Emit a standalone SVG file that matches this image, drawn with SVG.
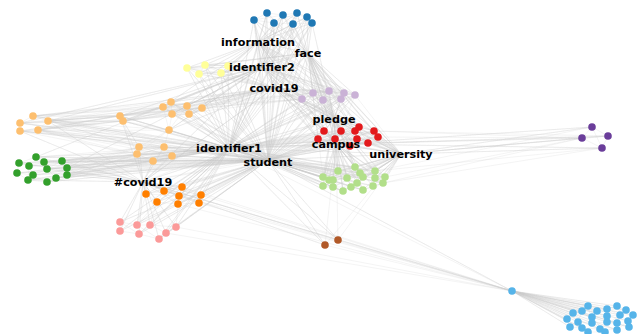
<svg xmlns="http://www.w3.org/2000/svg" width="644" height="334" viewBox="0 0 644 334">
<style>
.e{fill:none;stroke:#c8c8c8;stroke-width:0.5;stroke-opacity:0.42;stroke-linejoin:round}
circle{r:3.8px}
.b{fill:#1f78b4}.y{fill:#ffff99}.lp{fill:#cab2d6}.r{fill:#e31a1c}.g{fill:#b2df8a}.o{fill:#fdbf6f}.dg{fill:#33a02c}.or{fill:#ff7f00}.pk{fill:#fb9a99}.br{fill:#b15928}.pu{fill:#6a3d9a}.lb{fill:#56b4e9}
text{font-family:"DejaVu Sans","Liberation Sans",sans-serif;font-weight:bold;font-size:11.2px;fill:#000;text-anchor:middle}
</style>
<rect width="644" height="334" fill="#fff"/>
<g id="edges">
<path class="e" d="M268 160L254 20 268 160 267 13 268 160 274 23 268 160 283 15 268 160 293 24 268 160 297 13 268 160 307 17 268 160 312 23 268 160 187 68 268 160 205 65 268 160 199 74 268 160 221 73 268 160 228 66 268 160 302 99 268 160 313 93 268 160 323 100 268 160 329 91 268 160 341 99 268 160 344 93 268 160 355 95 268 160 324 131 268 160 341 131 268 160 355 131 268 160 359 127 268 160 374 131 268 160 378 137 268 160 318 139 268 160 335 139 268 160 357 139 268 160 368 143 268 160 350 146 268 160 323 177 268 160 329 180 268 160 338 171 268 160 355 167 268 160 360 173 268 160 363 177 268 160 375 171 268 160 385 177 268 160 347 178 268 160 323 186 268 160 333 187 268 160 343 191 268 160 351 187 268 160 357 183 268 160 363 190 268 160 373 186 268 160 383 183 268 160 375 178 268 160 333 180 268 160 20 123 268 160 33 116 268 160 48 121 268 160 20 131 268 160 38 130 268 160 120 116 268 160 123 121 268 160 163 107 268 160 171 102 268 160 172 114 268 160 187 106 268 160 189 114 268 160 202 108 268 160 169 130 268 160 139 147 268 160 137 154 268 160 164 147 268 160 172 156 268 160 153 161 268 160 36 157 268 160 44 162 268 160 62 161 268 160 19 163 268 160 29 166 268 160 47 169 268 160 67 168 268 160 17 173 268 160 33 175 268 160 67 175 268 160 56 178 268 160 47 182 268 160 28 180 268 160 146 194 268 160 164 191 268 160 182 187 268 160 179 196 268 160 201 195 268 160 157 202 268 160 178 204 268 160 199 203 268 160 120 222 268 160 137 225 268 160 150 225 268 160 176 227 268 160 120 231 268 160 139 234 268 160 166 233 268 160 159 239 268 160 325 245 268 160 338 240 268 160 512 291 268 160 229 148 268 160 262 67 268 160 274 88 268 160 308 53 268 160 258 42 268 160 334 119 268 160 336 144 268 160 401 154 268 160 143 182"/>
<path class="e" d="M229 148L254 20 229 148 267 13 229 148 274 23 229 148 283 15 229 148 293 24 229 148 297 13 229 148 307 17 229 148 312 23 229 148 187 68 229 148 205 65 229 148 199 74 229 148 221 73 229 148 228 66 229 148 302 99 229 148 313 93 229 148 323 100 229 148 329 91 229 148 341 99 229 148 344 93 229 148 355 95 229 148 324 131 229 148 341 131 229 148 355 131 229 148 359 127 229 148 374 131 229 148 378 137 229 148 318 139 229 148 335 139 229 148 357 139 229 148 368 143 229 148 350 146 229 148 323 177 229 148 338 171 229 148 355 167 229 148 375 171 229 148 385 177 229 148 347 178 229 148 323 186 229 148 343 191 229 148 363 190 229 148 383 183 229 148 20 123 229 148 33 116 229 148 48 121 229 148 20 131 229 148 38 130 229 148 120 116 229 148 123 121 229 148 163 107 229 148 171 102 229 148 172 114 229 148 187 106 229 148 189 114 229 148 202 108 229 148 169 130 229 148 139 147 229 148 137 154 229 148 164 147 229 148 172 156 229 148 153 161 229 148 36 157 229 148 44 162 229 148 62 161 229 148 19 163 229 148 29 166 229 148 47 169 229 148 67 168 229 148 17 173 229 148 33 175 229 148 67 175 229 148 56 178 229 148 47 182 229 148 28 180 229 148 146 194 229 148 164 191 229 148 182 187 229 148 179 196 229 148 201 195 229 148 157 202 229 148 178 204 229 148 199 203 229 148 120 222 229 148 137 225 229 148 150 225 229 148 176 227 229 148 120 231 229 148 139 234 229 148 166 233 229 148 159 239 229 148 325 245 229 148 338 240 229 148 262 67 229 148 274 88 229 148 308 53 229 148 258 42 229 148 334 119 229 148 336 144 229 148 401 154 229 148 143 182"/>
<path class="e" d="M143 182L146 194 143 182 164 191 143 182 182 187 143 182 179 196 143 182 201 195 143 182 157 202 143 182 178 204 143 182 199 203 143 182 120 222 143 182 137 225 143 182 150 225 143 182 176 227 143 182 120 231 143 182 139 234 143 182 166 233 143 182 159 239 143 182 36 157 143 182 62 161 143 182 19 163 143 182 47 169 143 182 67 175 143 182 28 180 143 182 139 147 143 182 137 154 143 182 164 147 143 182 172 156 143 182 153 161 143 182 512 291 143 182 325 245 143 182 338 240 143 182 120 116 143 182 20 131 143 182 48 121 143 182 262 67 143 182 274 88 143 182 334 119 143 182 336 144"/>
<path class="e" d="M201 195L512 291 199 203M182 187L512 291 178 204M164 191L512 291M176 227L512 291 166 233M338 240L512 291 325 245 401 154 338 240 336 144 325 245M229 148L512 291"/>
<path class="e" d="M262 67L254 20 262 67 267 13 262 67 274 23 262 67 283 15 262 67 293 24 262 67 297 13 262 67 307 17 262 67 312 23 262 67 187 68 262 67 205 65 262 67 199 74 262 67 221 73 262 67 163 107 262 67 171 102 262 67 172 114 262 67 187 106 262 67 189 114 262 67 202 108 262 67 169 130 262 67 120 116 262 67 123 121 262 67 302 99 262 67 313 93 262 67 323 100 262 67 329 91 262 67 341 99 262 67 344 93 262 67 355 95 262 67 324 131 262 67 341 131 262 67 318 139 262 67 20 123 262 67 48 121 262 67 36 157 262 67 67 168 262 67 274 88 262 67 308 53 262 67 258 42 262 67 334 119 262 67 336 144 262 67 401 154"/>
<path class="e" d="M258 42L254 20 258 42 267 13 258 42 274 23 258 42 283 15 258 42 293 24 258 42 297 13 258 42 307 17 258 42 312 23 258 42 187 68 258 42 205 65 258 42 199 74 258 42 221 73 258 42 228 66 258 42 302 99 258 42 313 93 258 42 329 91 258 42 344 93 258 42 355 95 258 42 324 131 258 42 341 131 258 42 359 127 258 42 318 139 258 42 163 107 258 42 187 106 258 42 202 108 258 42 308 53 258 42 274 88 258 42 334 119 258 42 336 144 258 42 401 154"/>
<path class="e" d="M308 53L254 20 308 53 267 13 308 53 274 23 308 53 283 15 308 53 293 24 308 53 297 13 308 53 307 17 308 53 312 23 308 53 302 99 308 53 313 93 308 53 323 100 308 53 329 91 308 53 341 99 308 53 344 93 308 53 355 95 308 53 324 131 308 53 341 131 308 53 355 131 308 53 359 127 308 53 374 131 308 53 378 137 308 53 318 139 308 53 335 139 308 53 357 139 308 53 368 143 308 53 350 146 308 53 187 68 308 53 205 65 308 53 221 73 308 53 274 88 308 53 334 119 308 53 336 144 308 53 401 154 308 53 338 171 308 53 355 167 308 53 323 177"/>
<path class="e" d="M274 88L254 20 274 88 274 23 274 88 293 24 274 88 312 23 274 88 187 68 274 88 205 65 274 88 199 74 274 88 221 73 274 88 228 66 274 88 302 99 274 88 313 93 274 88 323 100 274 88 329 91 274 88 341 99 274 88 344 93 274 88 355 95 274 88 324 131 274 88 341 131 274 88 355 131 274 88 359 127 274 88 374 131 274 88 318 139 274 88 335 139 274 88 163 107 274 88 171 102 274 88 172 114 274 88 187 106 274 88 189 114 274 88 202 108 274 88 169 130 274 88 120 116 274 88 123 121 274 88 33 116 274 88 38 130 274 88 334 119 274 88 336 144 274 88 401 154 274 88 143 182"/>
<path class="e" d="M334 119L324 131 334 119 341 131 334 119 355 131 334 119 359 127 334 119 374 131 334 119 378 137 334 119 318 139 334 119 335 139 334 119 357 139 334 119 368 143 334 119 350 146 334 119 302 99 334 119 313 93 334 119 323 100 334 119 329 91 334 119 341 99 334 119 344 93 334 119 355 95 334 119 323 177 334 119 338 171 334 119 355 167 334 119 360 173 334 119 375 171 334 119 385 177 334 119 347 178 334 119 323 186 334 119 343 191 334 119 363 190 334 119 383 183 334 119 254 20 334 119 274 23 334 119 293 24 334 119 312 23 334 119 283 15 334 119 336 144 334 119 401 154"/>
<path class="e" d="M336 144L324 131 336 144 341 131 336 144 355 131 336 144 359 127 336 144 374 131 336 144 378 137 336 144 318 139 336 144 335 139 336 144 357 139 336 144 368 143 336 144 350 146 336 144 323 177 336 144 329 180 336 144 338 171 336 144 355 167 336 144 360 173 336 144 363 177 336 144 375 171 336 144 385 177 336 144 347 178 336 144 323 186 336 144 333 187 336 144 343 191 336 144 351 187 336 144 357 183 336 144 363 190 336 144 373 186 336 144 383 183 336 144 375 178 336 144 333 180 336 144 592 127 336 144 582 138 336 144 608 136 336 144 602 148 336 144 401 154 336 144 302 99 336 144 329 91 336 144 355 95"/>
<path class="e" d="M401 154L323 177 401 154 329 180 401 154 338 171 401 154 355 167 401 154 360 173 401 154 363 177 401 154 375 171 401 154 385 177 401 154 347 178 401 154 323 186 401 154 333 187 401 154 343 191 401 154 351 187 401 154 357 183 401 154 363 190 401 154 373 186 401 154 383 183 401 154 375 178 401 154 324 131 401 154 341 131 401 154 355 131 401 154 359 127 401 154 374 131 401 154 378 137 401 154 318 139 401 154 357 139 401 154 368 143 401 154 350 146 401 154 592 127 401 154 582 138 401 154 608 136 401 154 602 148 401 154 302 99 401 154 329 91 401 154 344 93 401 154 355 95"/>
<path class="e" d="M385 177L582 138 383 183 602 148 375 171 592 127M378 137L582 138 374 131 608 136M592 127L582 138 602 148 608 136 592 127 602 148M582 138L608 136"/>
<path class="e" d="M512 291L588 306 512 291 573 313 512 291 567 319 512 291 570 327 512 291 582 311 512 291 592 317 512 291 597 311 512 291 607 309 512 291 617 306 512 291 626 310 512 291 633 315 512 291 628 321 512 291 620 315 512 291 607 316 512 291 592 323 512 291 578 322 512 291 582 328 512 291 588 332 512 291 600 329 512 291 607 322 512 291 617 323 512 291 617 330 512 291 629 327 512 291 605 332M573 313L588 306 607 309 626 310 633 315 628 321 617 330 600 329 582 328 570 327 567 319 573 313 592 317 607 316 620 315 633 315M582 311L597 311 617 306 626 310 617 323 607 322 592 323 578 322 582 311 600 329 620 315 607 309 592 317 605 332 588 332 578 322M597 311L607 322 629 327 617 306M588 306L592 323 617 330"/>
<path class="e" d="M120 116L20 123 120 116 33 116 120 116 48 121 120 116 20 131 120 116 38 130 123 121 20 123 123 121 48 121 123 121 38 130M120 116L163 107 123 121 172 114 120 116 187 106 123 121 202 108 120 116 302 99 123 121 329 91 120 116 169 130 123 121 139 147 120 116 137 154M48 121L163 107 33 116 171 102 48 121 202 108 38 130 189 114 20 131 169 130 48 121 302 99 33 116 313 93 20 123 33 116 48 121 38 130 20 131 20 123M48 121L139 147 38 130 137 154 20 131 164 147 48 121 172 156 38 130 153 161"/>
<path class="e" d="M62 161L139 147 67 168 137 154 67 175 164 147 62 161 172 156 67 168 153 161 44 162 137 154 47 169 139 147 56 178 153 161 36 157 164 147 67 175 229 148M36 157L44 162 62 161 67 168 67 175 56 178 47 182 28 180 17 173 19 163 36 157 47 169 44 162 29 166 19 163M29 166L33 175 47 169 56 178M33 175L17 173M33 175L47 182 67 168 47 169 62 161M28 180L29 166"/>
<path class="e" d="M163 107L171 102 187 106 202 108 189 114 172 114 163 107 189 114 171 102 172 114 187 106 169 130 172 114M163 107L169 130 202 108M139 147L137 154 153 161 172 156 164 147 139 147 172 156M164 147L153 161 137 154 169 130 164 147M169 130L139 147"/>
<path class="e" d="M146 194L164 191 182 187 201 195 199 203 178 204 157 202 146 194 179 196 182 187M164 191L179 196 199 203M157 202L164 191 178 204 179 196 201 195M120 222L137 225 150 225 176 227 166 233 159 239 139 234 120 231 120 222 139 234 150 225 166 233M137 225L159 239 176 227M146 194L137 225 157 202 150 225 179 196 176 227"/>
<path class="e" d="M254 20L267 13 283 15 297 13 307 17 312 23 293 24 274 23 254 20 283 15 293 24 307 17M267 13L274 23 283 15 312 23 297 13 274 23M187 68L205 65 228 66 221 73 199 74 187 68 221 73 205 65 199 74M302 99L313 93 329 91 344 93 355 95 341 99 323 100 302 99 329 91 341 99M313 93L323 100 344 93 329 91"/>
<path class="e" d="M324 131L341 131 355 131 359 127 374 131 378 137 368 143 357 139 350 146 335 139 318 139 324 131 335 139 341 131 357 139 355 131 368 143 374 131 359 127 341 131 350 146M318 139L341 131M355 131L378 137"/>
<path class="e" d="M323 177L329 180 333 180 338 171 355 167 360 173 363 177 375 171 385 177 383 183 373 186 363 190 351 187 343 191 333 187 323 186 323 177 333 180 347 178 357 183 363 177 375 178 385 177M338 171L347 178 360 173 375 171 375 178 373 186 357 183 351 187 333 187 333 180M329 180L323 186 343 191 357 183 363 190 383 183 375 178M355 167L363 177 347 178 351 187"/>
</g>
<g id="blue">
<g id="b1"><circle class="b" cx="254" cy="20"/></g><g id="b2"><circle class="b" cx="267" cy="13"/></g><g id="b3"><circle class="b" cx="274" cy="23"/></g><g id="b4"><circle class="b" cx="283" cy="15"/></g><g id="b5"><circle class="b" cx="293" cy="24"/></g><g id="b6"><circle class="b" cx="297" cy="13"/></g><g id="b7"><circle class="b" cx="307" cy="17"/></g><g id="b8"><circle class="b" cx="312" cy="23"/></g>
</g>
<g id="yellow">
<g id="y1"><circle class="y" cx="187" cy="68"/></g><g id="y2"><circle class="y" cx="205" cy="65"/></g><g id="y3"><circle class="y" cx="199" cy="74"/></g><g id="y4"><circle class="y" cx="221" cy="73"/></g><g id="y5"><circle class="y" cx="228" cy="66"/></g>
</g>
<g id="lpurple">
<g id="lp1"><circle class="lp" cx="302" cy="99"/></g><g id="lp2"><circle class="lp" cx="313" cy="93"/></g><g id="lp3"><circle class="lp" cx="323" cy="100"/></g><g id="lp4"><circle class="lp" cx="329" cy="91"/></g><g id="lp5"><circle class="lp" cx="341" cy="99"/></g><g id="lp6"><circle class="lp" cx="344" cy="93"/></g><g id="lp7"><circle class="lp" cx="355" cy="95"/></g>
</g>
<g id="red">
<g id="r1"><circle class="r" cx="324" cy="131"/></g><g id="r2"><circle class="r" cx="341" cy="131"/></g><g id="r3"><circle class="r" cx="355" cy="131"/></g><g id="r4"><circle class="r" cx="359" cy="127"/></g><g id="r5"><circle class="r" cx="374" cy="131"/></g><g id="r6"><circle class="r" cx="378" cy="137"/></g><g id="r7"><circle class="r" cx="318" cy="139"/></g><g id="r8"><circle class="r" cx="335" cy="139"/></g><g id="r9"><circle class="r" cx="357" cy="139"/></g><g id="r10"><circle class="r" cx="368" cy="143"/></g><g id="r11"><circle class="r" cx="350" cy="146"/></g>
</g>
<g id="lgreen">
<g id="g1"><circle class="g" cx="323" cy="177"/></g><g id="g2"><circle class="g" cx="329" cy="180"/></g><g id="g3"><circle class="g" cx="338" cy="171"/></g><g id="g4"><circle class="g" cx="355" cy="167"/></g><g id="g5"><circle class="g" cx="360" cy="173"/></g><g id="g6"><circle class="g" cx="363" cy="177"/></g><g id="g7"><circle class="g" cx="375" cy="171"/></g><g id="g8"><circle class="g" cx="385" cy="177"/></g><g id="g9"><circle class="g" cx="347" cy="178"/></g><g id="g10"><circle class="g" cx="323" cy="186"/></g><g id="g11"><circle class="g" cx="333" cy="187"/></g><g id="g12"><circle class="g" cx="343" cy="191"/></g><g id="g13"><circle class="g" cx="351" cy="187"/></g><g id="g14"><circle class="g" cx="357" cy="183"/></g><g id="g15"><circle class="g" cx="363" cy="190"/></g><g id="g16"><circle class="g" cx="373" cy="186"/></g><g id="g17"><circle class="g" cx="383" cy="183"/></g><g id="g18"><circle class="g" cx="375" cy="178"/></g><g id="g19"><circle class="g" cx="333" cy="180"/></g>
</g>
<g id="lorange">
<g id="o1"><circle class="o" cx="20" cy="123"/></g><g id="o2"><circle class="o" cx="33" cy="116"/></g><g id="o3"><circle class="o" cx="48" cy="121"/></g><g id="o4"><circle class="o" cx="20" cy="131"/></g><g id="o5"><circle class="o" cx="38" cy="130"/></g><g id="o6"><circle class="o" cx="120" cy="116"/></g><g id="o7"><circle class="o" cx="123" cy="121"/></g><g id="o8"><circle class="o" cx="163" cy="107"/></g><g id="o9"><circle class="o" cx="171" cy="102"/></g><g id="o10"><circle class="o" cx="172" cy="114"/></g><g id="o11"><circle class="o" cx="187" cy="106"/></g><g id="o12"><circle class="o" cx="189" cy="114"/></g><g id="o13"><circle class="o" cx="202" cy="108"/></g><g id="o14"><circle class="o" cx="169" cy="130"/></g><g id="o15"><circle class="o" cx="139" cy="147"/></g><g id="o16"><circle class="o" cx="137" cy="154"/></g><g id="o17"><circle class="o" cx="164" cy="147"/></g><g id="o18"><circle class="o" cx="172" cy="156"/></g><g id="o19"><circle class="o" cx="153" cy="161"/></g>
</g>
<g id="dgreen">
<g id="dg1"><circle class="dg" cx="36" cy="157"/></g><g id="dg2"><circle class="dg" cx="44" cy="162"/></g><g id="dg3"><circle class="dg" cx="62" cy="161"/></g><g id="dg4"><circle class="dg" cx="19" cy="163"/></g><g id="dg5"><circle class="dg" cx="29" cy="166"/></g><g id="dg6"><circle class="dg" cx="47" cy="169"/></g><g id="dg7"><circle class="dg" cx="67" cy="168"/></g><g id="dg8"><circle class="dg" cx="17" cy="173"/></g><g id="dg9"><circle class="dg" cx="33" cy="175"/></g><g id="dg10"><circle class="dg" cx="67" cy="175"/></g><g id="dg11"><circle class="dg" cx="56" cy="178"/></g><g id="dg12"><circle class="dg" cx="47" cy="182"/></g><g id="dg13"><circle class="dg" cx="28" cy="180"/></g>
</g>
<g id="orange">
<g id="or1"><circle class="or" cx="146" cy="194"/></g><g id="or2"><circle class="or" cx="164" cy="191"/></g><g id="or3"><circle class="or" cx="182" cy="187"/></g><g id="or4"><circle class="or" cx="179" cy="196"/></g><g id="or5"><circle class="or" cx="201" cy="195"/></g><g id="or6"><circle class="or" cx="157" cy="202"/></g><g id="or7"><circle class="or" cx="178" cy="204"/></g><g id="or8"><circle class="or" cx="199" cy="203"/></g>
</g>
<g id="pink">
<g id="pk1"><circle class="pk" cx="120" cy="222"/></g><g id="pk2"><circle class="pk" cx="137" cy="225"/></g><g id="pk3"><circle class="pk" cx="150" cy="225"/></g><g id="pk4"><circle class="pk" cx="176" cy="227"/></g><g id="pk5"><circle class="pk" cx="120" cy="231"/></g><g id="pk6"><circle class="pk" cx="139" cy="234"/></g><g id="pk7"><circle class="pk" cx="166" cy="233"/></g><g id="pk8"><circle class="pk" cx="159" cy="239"/></g>
</g>
<g id="brown">
<g id="br1"><circle class="br" cx="325" cy="245"/></g><g id="br2"><circle class="br" cx="338" cy="240"/></g>
</g>
<g id="purple">
<g id="pu1"><circle class="pu" cx="592" cy="127"/></g><g id="pu2"><circle class="pu" cx="582" cy="138"/></g><g id="pu3"><circle class="pu" cx="608" cy="136"/></g><g id="pu4"><circle class="pu" cx="602" cy="148"/></g>
</g>
<g id="lblue">
<g id="lb0"><circle class="lb" cx="512" cy="291"/></g>
<g id="lb1"><circle class="lb" cx="588" cy="306"/></g><g id="lb2"><circle class="lb" cx="573" cy="313"/></g><g id="lb3"><circle class="lb" cx="567" cy="319"/></g><g id="lb4"><circle class="lb" cx="570" cy="327"/></g><g id="lb5"><circle class="lb" cx="582" cy="311"/></g><g id="lb6"><circle class="lb" cx="592" cy="317"/></g><g id="lb7"><circle class="lb" cx="597" cy="311"/></g><g id="lb8"><circle class="lb" cx="607" cy="309"/></g><g id="lb9"><circle class="lb" cx="617" cy="306"/></g><g id="lb10"><circle class="lb" cx="626" cy="310"/></g><g id="lb11"><circle class="lb" cx="633" cy="315"/></g><g id="lb12"><circle class="lb" cx="628" cy="321"/></g><g id="lb13"><circle class="lb" cx="620" cy="315"/></g><g id="lb14"><circle class="lb" cx="607" cy="316"/></g><g id="lb15"><circle class="lb" cx="592" cy="323"/></g><g id="lb16"><circle class="lb" cx="578" cy="322"/></g><g id="lb17"><circle class="lb" cx="582" cy="328"/></g><g id="lb18"><circle class="lb" cx="588" cy="332"/></g><g id="lb19"><circle class="lb" cx="600" cy="329"/></g><g id="lb20"><circle class="lb" cx="607" cy="322"/></g><g id="lb21"><circle class="lb" cx="617" cy="323"/></g><g id="lb22"><circle class="lb" cx="617" cy="330"/></g><g id="lb23"><circle class="lb" cx="629" cy="327"/></g><g id="lb24"><circle class="lb" cx="605" cy="332"/></g>
</g>
<g id="labels">
<g id="n-information"><text x="258" y="46">information</text></g>
<g id="n-face"><text x="308" y="57">face</text></g>
<g id="n-identifier2"><text x="262" y="71">identifier2</text></g>
<g id="n-covid19"><text x="274" y="92">covid19</text></g>
<g id="n-pledge"><text x="334" y="123">pledge</text></g>
<g id="n-campus"><text x="336" y="148">campus</text></g>
<g id="n-university"><text x="401" y="158">university</text></g>
<g id="n-identifier1"><text x="229" y="152">identifier1</text></g>
<g id="n-student"><text x="268" y="166">student</text></g>
<g id="n-hashcovid19"><text x="143" y="186">#covid19</text></g>
</g>
</svg>
